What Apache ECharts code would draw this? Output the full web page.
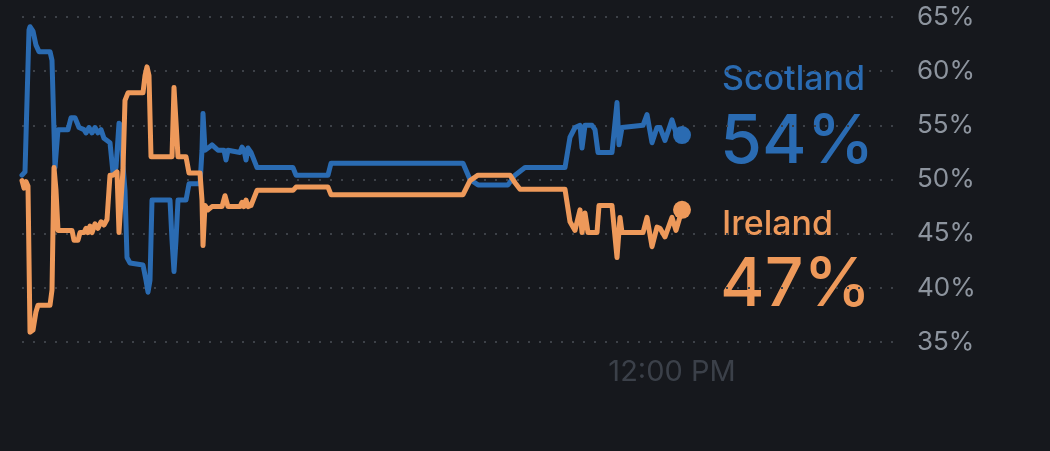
<!DOCTYPE html>
<html>
<head>
<meta charset="utf-8">
<script src="https://cdn.jsdelivr.net/npm/echarts@6/dist/echarts.min.js"></script>
<style>
  html, body { margin: 0; padding: 0; background: #16181d; }
  #chart { width: 1050px; height: 451px; }
</style>
</head>
<body>
<div id="chart"></div>
<script>
// 投票走势 (minutes since midnight -> percent)

const names = ['Scotland', 'Ireland'];
const colors = ['#2a6bb2', '#ee995a'];

const scotlandTime = [460.0, 461.2, 462.0, 462.8, 463.2, 464.4, 465.6, 466.8, 471.2, 472.0, 473.2, 474.4,
    478.4, 479.6, 481.2, 482.8, 484.8, 485.6, 486.8, 488.0, 489.2, 490.4, 491.6, 492.8, 494.0, 495.2,
    496.4, 497.6, 498.8, 499.6, 500.4, 501.2, 502.0, 503.2, 508.4, 509.6, 510.4, 511.2, 512.0, 519.2,
    520.0, 520.8, 521.6, 522.4, 525.6, 526.8, 531.2, 532.0, 532.4, 533.2, 534.4, 536.0, 538.4, 540.8,
    541.6, 542.4, 547.2, 548.0, 548.8, 549.6, 550.4, 551.6, 554.0, 568.4, 569.6, 582.4, 583.6, 636.4,
    639.2, 642.4, 654.4, 657.2, 661.2, 677.2, 679.2, 681.2, 683.2, 684.0, 685.2, 688.0, 689.2, 690.4,
    696.0, 698.0, 698.8, 700.0, 708.4, 710.0, 712.0, 714.0, 715.2, 717.2, 720.0, 721.6, 724.0];
const scotlandShare = [50.4, 50.7, 50.7, 63.8, 64.1, 63.7, 62.4, 61.8, 61.8, 61.0, 51.1, 54.6,
    54.6, 55.7, 55.7, 54.8, 54.6, 54.3, 54.8, 54.3, 54.8, 54.3, 54.6, 53.8, 53.6, 53.4,
    50.6, 51.1, 55.2, 55.0, 51.3, 49.0, 42.8, 42.3, 42.1, 40.7, 39.6, 40.7, 48.1, 48.1,
    44.4, 41.5, 44.4, 48.1, 48.1, 49.6, 49.6, 52.7, 56.1, 52.7, 52.9, 53.2, 52.7, 52.7,
    51.8, 52.7, 52.5, 53.0, 52.7, 51.8, 52.9, 52.5, 51.1, 51.1, 50.4, 50.4, 51.5, 51.5,
    50.0, 49.5, 49.5, 50.4, 51.1, 51.1, 53.9, 54.8, 55.0, 52.9, 55.0, 55.0, 54.6, 52.5,
    52.5, 57.1, 53.2, 54.8, 55.0, 56.0, 53.4, 54.8, 54.8, 53.6, 55.5, 54.3, 54.1];

const irelandTime = [460.0, 460.8, 461.6, 462.4, 463.2, 464.4, 465.6, 466.4, 471.2, 472.0, 472.8, 473.6,
    474.4, 480.0, 480.8, 482.4, 483.2, 484.8, 485.6, 486.4, 487.2, 488.0, 489.2, 490.4, 491.6, 492.8,
    494.0, 495.2, 496.4, 498.0, 498.8, 499.6, 500.4, 501.2, 502.4, 508.4, 509.2, 510.0, 510.8, 511.6,
    520.0, 520.8, 521.6, 522.4, 525.6, 526.8, 531.2, 532.0, 532.4, 533.2, 534.4, 536.0, 540.0, 541.2,
    542.4, 547.2, 548.0, 548.8, 549.6, 550.4, 551.6, 554.0, 568.4, 569.6, 582.4, 583.6, 636.4, 639.2,
    642.4, 655.2, 657.2, 659.2, 677.2, 679.2, 681.2, 683.2, 684.0, 685.2, 686.4, 690.0, 690.8, 696.0,
    698.0, 699.2, 700.0, 708.4, 710.0, 712.0, 714.0, 715.2, 717.2, 720.0, 721.6, 724.0];
const irelandShare = [49.9, 49.2, 49.8, 49.4, 35.9, 36.1, 37.8, 38.4, 38.4, 39.8, 51.1, 49.0,
    45.3, 45.3, 44.4, 44.4, 45.1, 45.1, 45.5, 45.1, 45.7, 45.1, 45.9, 45.5, 46.1, 45.8,
    46.3, 50.4, 50.4, 50.7, 45.1, 48.1, 50.9, 57.3, 58.0, 58.0, 59.6, 60.4, 59.6, 52.1,
    52.1, 58.5, 58.5, 52.1, 52.1, 50.6, 50.6, 48.1, 43.9, 47.6, 47.2, 47.5, 47.5, 48.5,
    47.5, 47.5, 47.9, 47.5, 48.1, 47.5, 47.6, 49.0, 49.0, 49.3, 49.3, 48.6, 48.6, 49.9,
    50.4, 50.4, 49.7, 49.1, 49.1, 46.1, 45.3, 47.2, 45.1, 46.9, 45.1, 45.1, 47.6, 47.6,
    42.8, 46.5, 45.1, 45.1, 46.5, 43.8, 45.6, 45.5, 44.7, 46.5, 45.3, 47.2];

const yTicks = [35, 40, 45, 50, 55, 60, 65];
const noonLabel = '12:00 PM';

const pairs = (xs, ys) => xs.map((x, i) => [x, ys[i]]);
const seriesData = [pairs(scotlandTime, scotlandShare), pairs(irelandTime, irelandShare)];

const chart = echarts.init(document.getElementById('chart'));

const lineSeries = seriesData.map((d, i) => ({
    name: names[i],
    type: 'line',
    data: d,
    showSymbol: false,
    lineStyle: { color: colors[i], width: 5, cap: 'round', join: 'round' },
    z: 3
}));

// 最新一点的圆点
const dotSeries = seriesData.map((d, i) => ({
    type: 'scatter',
    data: [d[d.length - 1]],
    symbolSize: 18,
    itemStyle: { color: colors[i], opacity: 1 },
    z: 4
}));

// 右侧的名称与最新数值
const lastValues = seriesData.map(d => Math.round(d[d.length - 1][1]) + '%');
const nameY = [80, 225];
const valueY = [143, 286];
const graphics = [];
names.forEach((n, i) => {
    graphics.push({
        type: 'text', x: 722, y: nameY[i],
        style: { text: n, fill: colors[i], font: '500 34px Inter', verticalAlign: 'middle' }
    });
    graphics.push({
        type: 'text', x: 720, y: valueY[i],
        style: { text: lastValues[i], fill: colors[i], font: '500 68px Inter', verticalAlign: 'middle' }
    });
});

chart.setOption({
    backgroundColor: '#16181d',
    animation: false,
    grid: { left: 22, right: 153, top: 17, bottom: 109 },
    xAxis: {
        type: 'value',
        min: 460,
        max: 810,
        interval: 20,
        axisLine: { show: false },
        axisTick: { show: false },
        splitLine: { show: false },
        axisLabel: {
            color: '#3b4049',
            fontSize: 29,
            fontFamily: 'Inter',
            margin: 16,
            showMaxLabel: false,
            formatter: v => (v === 720 ? noonLabel : '')
        }
    },
    yAxis: {
        type: 'value',
        position: 'right',
        min: yTicks[0],
        max: yTicks[yTicks.length - 1],
        interval: 5,
        axisLine: { show: false },
        axisTick: { show: false },
        axisLabel: {
            color: '#8d949e',
            fontSize: 26,
            fontFamily: 'Inter',
            margin: 20,
            formatter: '{value}%'
        },
        splitLine: { lineStyle: { color: '#3d4148', width: 2, type: [2, 9] } }
    },
    graphic: graphics,
    series: [...lineSeries, ...dotSeries]
});
</script>
</body>
</html>
